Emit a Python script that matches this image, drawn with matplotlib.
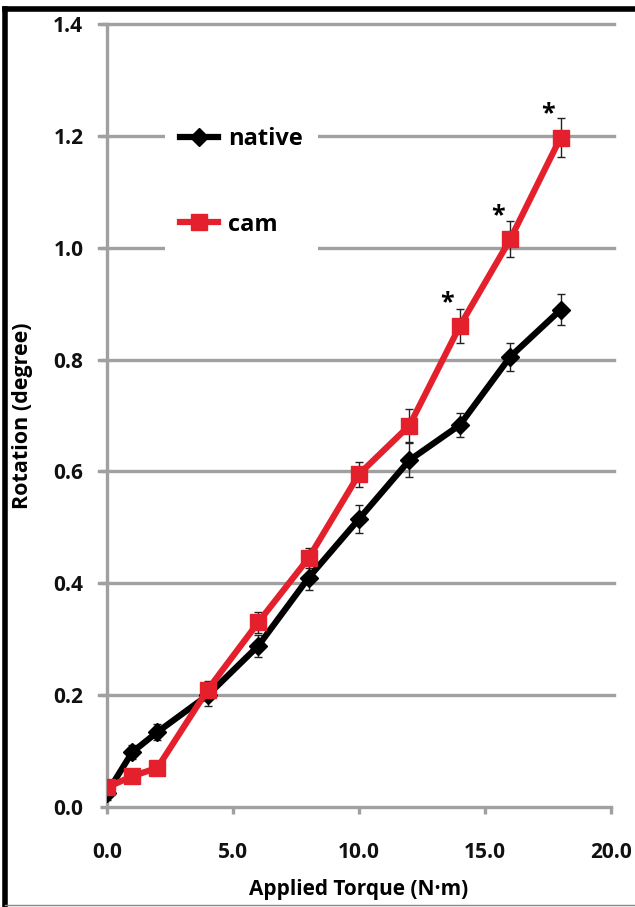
import matplotlib.pyplot as plt
from matplotlib.lines import Line2D
from matplotlib.patches import Rectangle

torque = [0, 1, 2, 4, 6, 8, 10, 12, 14, 16, 18]
native = [0.025, 0.098, 0.134, 0.200, 0.288, 0.410, 0.515, 0.620, 0.683, 0.805, 0.889]
native_err = [0.012, 0.012, 0.015, 0.02, 0.02, 0.022, 0.025, 0.03, 0.022, 0.025, 0.028]
cam = [0.035, 0.055, 0.070, 0.210, 0.330, 0.445, 0.595, 0.682, 0.860, 1.015, 1.197]
cam_err = [0.01, 0.01, 0.01, 0.015, 0.018, 0.018, 0.022, 0.03, 0.03, 0.032, 0.035]
signif = [14, 16, 18]

plt.rcParams['font.family'] = ['Open Sans', 'DejaVu Sans']
plt.rcParams['font.weight'] = 'bold'

red = '#e3202b'
grid_c = '#a0a0a0'

fig = plt.figure(figsize=(6.35, 9.07), dpi=100)
ax = fig.add_axes([107 / 635, 1 - 807 / 907, 504 / 635, 783 / 907])

for y in [0.2, 0.4, 0.6, 0.8, 1.0, 1.2, 1.4]:
    ax.plot([-0.3, 20.1], [y, y], color=grid_c, lw=2.4, zorder=0, clip_on=False)

# white patch behind legend hides the gridlines
ax.add_patch(Rectangle((0.115, 0.705), 0.304, 0.175, transform=ax.transAxes,
                       facecolor='white', edgecolor='none', zorder=1))

ax.errorbar(torque, native, yerr=native_err, fmt='none', ecolor='#222222',
            elinewidth=1.0, capsize=3, capthick=1.0, zorder=3)
ax.errorbar(torque, cam, yerr=cam_err, fmt='none', ecolor='#222222',
            elinewidth=1.0, capsize=3, capthick=1.0, zorder=3)
ax.plot(torque, native, color='black', lw=4.5, marker='D', ms=9, zorder=4)
ax.plot(torque, cam, color=red, lw=4.5, marker='s', ms=12, zorder=5)

for t in signif:
    ax.annotate('*', (t, cam[torque.index(t)]), xytext=(-9, 17),
                textcoords='offset points', ha='center', va='center',
                fontsize=18, fontweight='bold')

ax.set_xlim(0, 20)
ax.set_ylim(0, 1.4)
ax.set_xticks([0, 5, 10, 15, 20])
ax.set_xticklabels(['0.0', '5.0', '10.0', '15.0', '20.0'])
ax.set_yticks([0, 0.2, 0.4, 0.6, 0.8, 1.0, 1.2, 1.4])
ax.set_yticklabels(['0.0', '0.2', '0.4', '0.6', '0.8', '1.0', '1.2', '1.4'])
ax.tick_params(axis='both', colors=grid_c, length=5, width=2.4, labelsize=15,
               labelcolor='#111111')
ax.tick_params(axis='y', pad=12)
ax.tick_params(axis='x', pad=20)
for lab in ax.get_xticklabels() + ax.get_yticklabels():
    lab.set_fontweight('bold')
for s in ['top', 'right']:
    ax.spines[s].set_visible(False)
for s in ['left', 'bottom']:
    ax.spines[s].set_color(grid_c)
    ax.spines[s].set_linewidth(2.4)

ax.set_xlabel('Applied Torque (N·m)', fontsize=15, fontweight='bold')
ax.set_ylabel('Rotation (degree)', fontsize=15.5, fontweight='bold')
ax.xaxis.set_label_coords(0.5, -0.092)
ax.yaxis.set_label_coords(-0.147, 0.5)

handles = [Line2D([], [], color='black', lw=4.5, marker='D', ms=9),
           Line2D([], [], color=red, lw=4.5, marker='s', ms=12)]
leg = ax.legend(handles, ['native', 'cam'], loc='upper left',
                bbox_to_anchor=(0.145, 0.868), frameon=False,
                prop={'size': 17, 'weight': 'bold'}, borderpad=0, borderaxespad=0,
                labelspacing=2.6, handlelength=1.6, handletextpad=0.45)
leg.set_zorder(6)

# figure frame
fig.add_artist(Line2D([5 / 635, 5 / 635], [0, 1 - 9 / 907], color='black', lw=4,
                      transform=fig.transFigure))
fig.add_artist(Line2D([5 / 635, 1], [1 - 9 / 907, 1 - 9 / 907], color='black', lw=4,
                      transform=fig.transFigure))
fig.add_artist(Line2D([5 / 635, 1], [2 / 907, 2 / 907], color='#888888', lw=1,
                      transform=fig.transFigure))

fig.savefig('out.png', dpi=100)
